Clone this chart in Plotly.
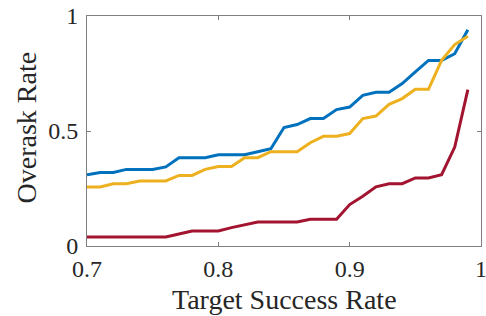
import plotly.graph_objects as go

target = [round(0.70 + 0.01 * k, 2) for k in range(30)]

blue = [0.31, 0.32, 0.32, 0.333, 0.333, 0.333, 0.344, 0.384, 0.384, 0.384,
        0.397, 0.397, 0.397, 0.41, 0.423, 0.515, 0.528, 0.554, 0.554, 0.593,
        0.604, 0.655, 0.668, 0.668, 0.706, 0.757, 0.807, 0.807, 0.836, 0.94]
yellow = [0.257, 0.257, 0.271, 0.271, 0.283, 0.283, 0.283, 0.307, 0.307, 0.333,
          0.346, 0.346, 0.384, 0.384, 0.41, 0.41, 0.41, 0.449, 0.477, 0.477,
          0.489, 0.554, 0.565, 0.616, 0.641, 0.681, 0.681, 0.807, 0.876, 0.912]
red = [0.039, 0.039, 0.039, 0.039, 0.039, 0.039, 0.039, 0.052, 0.065, 0.065,
       0.065, 0.08, 0.093, 0.104, 0.104, 0.104, 0.104, 0.116, 0.116, 0.116,
       0.18, 0.216, 0.257, 0.271, 0.271, 0.296, 0.296, 0.31, 0.43, 0.68]

xticks = [0.7, 0.8, 0.9, 1.0]
xticklabels = ["0.7", "0.8", "0.9", "1"]
yticks = [0, 0.5, 1]
yticklabels = ["0", "0.5", "1"]

fig = go.Figure()
for vals, col in [(blue, "#0072BD"), (yellow, "#EDB120"), (red, "#A2142F")]:
    fig.add_trace(go.Scatter(x=target, y=vals, mode="lines",
                             line=dict(color=col, width=3), showlegend=False))

font = "Liberation Serif"
txtcol = "#262626"
axis_common = dict(showline=True, linecolor="#808080", linewidth=1, mirror="allticks",
                   ticks="inside", ticklen=4, tickcolor="#808080", showgrid=False,
                   zeroline=False, automargin=False, ticklabeloverflow="allow",
                   tickfont=dict(family=font, size=24, color=txtcol))

fig.update_layout(
    width=486, height=316,
    margin=dict(l=87, r=5, t=16, b=70),
    paper_bgcolor="white", plot_bgcolor="white",
    xaxis=dict(range=[0.7, 1.0], tickvals=xticks, ticktext=xticklabels,
               ticklabelstandoff=1, **axis_common),
    yaxis=dict(range=[0, 1], tickvals=yticks, ticktext=yticklabels,
               ticklabelstandoff=3, **axis_common),
    annotations=[
        dict(text="Target Success Rate", xref="paper", yref="paper", x=0.5, y=-0.232,
             xanchor="center", yanchor="middle", showarrow=False,
             font=dict(family=font, size=28, color=txtcol)),
        dict(text="Overask Rate", xref="paper", yref="paper", x=-0.153, y=0.514,
             xanchor="center", yanchor="middle", showarrow=False, textangle=-90,
             font=dict(family=font, size=28, color=txtcol)),
    ],
)

fig.write_html("out.html", config={"displayModeBar": False},
               post_script="document.body.style.margin='0px';")
